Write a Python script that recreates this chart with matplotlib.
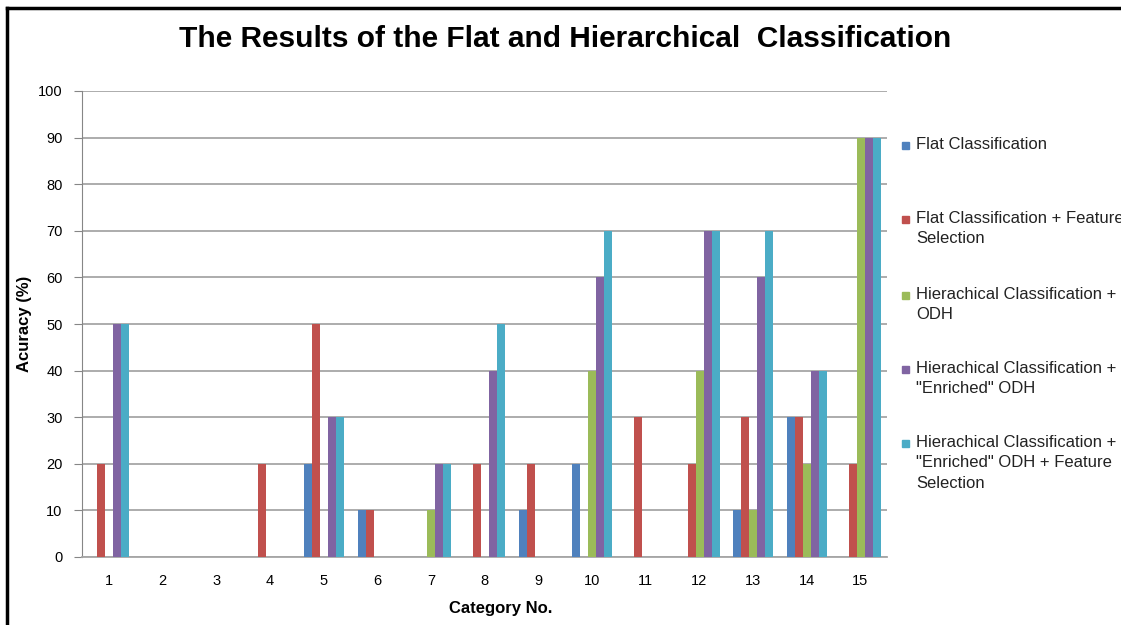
import matplotlib
matplotlib.use("Agg")
import matplotlib.pyplot as plt
from matplotlib.patches import Rectangle
from matplotlib.lines import Line2D
import numpy as np

# accuracy (%) per category for each method
categories = list(range(1, 16))
flat = [0, 0, 0, 0, 20, 10, 0, 0, 10, 20, 0, 0, 10, 30, 0]
flat_fs = [20, 0, 0, 20, 50, 10, 0, 20, 20, 0, 30, 20, 30, 30, 20]
hier_odh = [0, 0, 0, 0, 0, 0, 10, 0, 0, 40, 0, 40, 10, 20, 90]
hier_enriched = [50, 0, 0, 0, 30, 0, 20, 40, 0, 60, 0, 70, 60, 40, 90]
hier_enriched_fs = [50, 0, 0, 0, 30, 0, 20, 50, 0, 70, 0, 70, 70, 40, 90]

labels = ["Flat Classification",
          "Flat Classification + Feature\nSelection",
          "Hierachical Classification +\nODH",
          "Hierachical Classification +\n\"Enriched\" ODH",
          "Hierachical Classification +\n\"Enriched\" ODH + Feature\nSelection"]
colors = ["#4F81BD", "#C0504D", "#9BBB59", "#8064A2", "#4BACC6"]
series = [flat, flat_fs, hier_odh, hier_enriched, hier_enriched_fs]

plt.rcParams['font.family'] = ['Liberation Sans', 'DejaVu Sans']

W, H = 1121, 625
fig = plt.figure(figsize=(W / 100, H / 100), dpi=100)
ax = fig.add_axes([82 / W, 1 - 557 / H, (887 - 82) / W, (557 - 91) / H])

x = np.array(categories)
width = 0.15
for i, (vals, col) in enumerate(zip(series, colors)):
    ax.bar(x + (i - 2) * width + 0.01, vals, width, color=col, zorder=3)

ax.set_xlim(0.5, 15.5)
ax.set_ylim(0, 100)
ax.set_yticks(range(0, 101, 10))
ax.set_xticks(categories)
ax.yaxis.grid(True, color="#A6A6A6", linewidth=1.3, zorder=0)
for s in ["top", "right"]:
    ax.spines[s].set_visible(False)
ax.spines["left"].set_color("#868686")
ax.spines["bottom"].set_color("#A6A6A6")
ax.spines["bottom"].set_linewidth(1.3)
ax.tick_params(axis="y", length=6, color="#868686", labelsize=10.5, pad=8)
ax.tick_params(axis="x", length=0, labelsize=10.5, pad=12)

ax.set_xlabel("Category No.", fontsize=12, fontweight="bold")
ax.xaxis.set_label_coords(0.52, -0.095)
ax.set_ylabel("Acuracy (%)", fontsize=12, fontweight="bold")
ax.yaxis.set_label_coords(-0.062, 0.5)

fig.text(0.504, 1 - 39 / H, "The Results of the Flat and Hierarchical  Classification",
         ha="center", va="center", fontsize=21.5, fontweight="bold")

# legend drawn by hand so the marker lines up with the first text line
leg_y = [146, 220, 296, 370, 444]
for lab, col, yy in zip(labels, colors, leg_y):
    fig.patches.append(Rectangle((902 / W, 1 - (yy + 3) / H), 7 / W, 7 / H,
                                 transform=fig.transFigure, color=col))
    fig.text(916 / W, 1 - (yy - 9) / H, lab, ha="left", va="top",
             fontsize=12, linespacing=1.45, color="#222222")

# outer frame on left and top
fig.add_artist(Line2D([7 / W, 7 / W], [0, 1 - 8 / H], color="black", lw=2.5,
                      transform=fig.transFigure))
fig.add_artist(Line2D([7 / W, 1], [1 - 8 / H, 1 - 8 / H], color="black", lw=2.5,
                      transform=fig.transFigure))

fig.savefig("out.png", dpi=100)
